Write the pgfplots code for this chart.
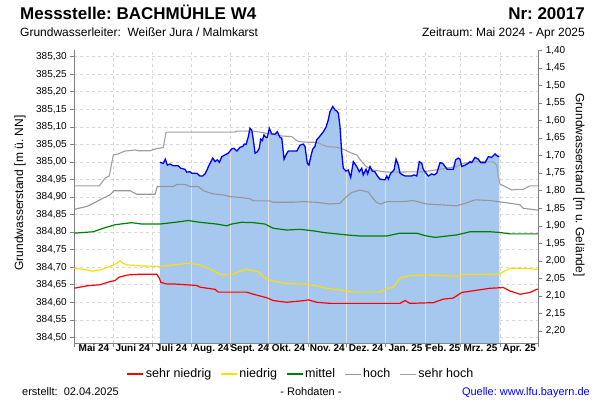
\documentclass[border=0pt]{standalone}
\usepackage{fontspec}
\setmainfont{Liberation Sans}
\usepackage{pgfplots}
\pgfplotsset{compat=1.18}
\frenchspacing

\definecolor{fillblue}{RGB}{166,200,238}
\definecolor{mblue}{RGB}{0,0,255}
\definecolor{cred}{RGB}{255,0,0}
\definecolor{cyellow}{RGB}{255,221,0}
\definecolor{cgreen}{RGB}{0,128,0}
\definecolor{chigh}{RGB}{150,150,150}
\definecolor{cvhigh}{RGB}{160,160,160}
\definecolor{gridc}{RGB}{215,215,215}
\definecolor{gridin}{RGB}{225,225,225}
\definecolor{axisc}{RGB}{128,128,128}

\begin{document}
\begin{tikzpicture}[x=1pt,y=1pt]
\useasboundingbox (0,0) rectangle (600,400);

% left axis: Grundwasserstand [m ü. NN], x = days since 01.05.2024
\begin{axis}[
  at={(74.3pt,57pt)}, anchor=south west, scale only axis,
  width=464pt, height=293pt,
  xmin=0, xmax=365, ymin=384.484, ymax=385.319,
  axis x line*=bottom, axis y line*=left,
  axis line style={-, axisc, line width=0.8pt},
  tick align=outside, major tick length=4pt,
  tick style={axisc, line width=0.6pt},
  xtick={0,31,61,92,123,153,184,214,245,276,304,335,365},
  xticklabels={},
  extra x ticks={15.5,46,76.5,107.5,138,168.5,199,229.5,260.5,290,319.5,350},
  extra x tick labels={Mai 24,Juni 24,Juli 24,Aug. 24,Sept. 24,Okt. 24,Nov. 24,Dez. 24,Jan. 25,Feb. 25,Mrz. 25,Apr. 25},
  extra x tick style={major tick length=0pt, grid=none},
  xticklabel style={font=\bfseries\fontsize{10}{12}\selectfont, inner sep=1pt},
  ytick={384.50,384.55,384.60,384.65,384.70,384.75,384.80,384.85,384.90,384.95,385.00,385.05,385.10,385.15,385.20,385.25,385.30},
  yticklabel style={font=\fontsize{10}{12}\selectfont,
    /pgf/number format/.cd, fixed, fixed zerofill, precision=2, use comma, 1000 sep={}},
  /pgf/number format/assume math mode=true,
  xmajorgrids, ymajorgrids,
  major grid style={gridc, dash pattern=on 3pt off 3pt, line width=0.6pt},
  legend style={at={(0.4886,-0.106)}, anchor=center, draw=none, fill=none,
    font=\fontsize{12.5}{14}\selectfont, legend columns=5,
    /tikz/every even column/.append style={column sep=7pt}},
  legend image code/.code={\draw[#1] (0pt,0pt) -- (16pt,0pt);},
]

% Messwerte (fill to bottom)
\addplot[fill=fillblue, draw=none, forget plot] coordinates {
(67.4,384.484)
(67.4,384.999) (70.0,384.996) (71.6,385.008) (73.2,384.991) (75.3,384.994) (77.9,384.989) (81.8,384.989) (83.7,384.982) (87.1,384.979) (88.4,384.971) (91.0,384.972) (92.4,384.968) (96.3,384.968) (98.9,384.960) (101.0,384.960) (102.8,384.966) (104.6,384.979) (106.0,384.991) (107.3,384.999) (108.9,385.011) (110.7,385.001) (112.5,385.006) (114.1,384.999) (116.0,385.015) (118.5,385.020) (121.1,385.025) (123.8,385.037) (125.6,385.039) (127.8,385.031) (130.4,385.042) (132.5,385.044) (133.7,385.051) (135.1,385.050) (136.9,385.072) (138.2,385.096) (139.6,385.091) (140.8,385.063) (142.2,385.025) (144.0,385.029) (145.5,385.039) (146.6,385.065) (147.9,385.061) (149.2,385.077) (150.8,385.070) (151.8,385.070) (153.4,385.096) (155.3,385.080) (157.9,385.079) (159.7,385.086) (161.8,385.070) (163.2,385.068) (165.0,385.008) (166.5,385.020) (168.3,385.031) (172.3,385.031) (175.0,385.031) (177.6,385.048) (180.1,385.051) (181.5,385.044) (183.3,384.996) (184.6,384.991) (186.0,385.015) (187.5,385.036) (189.3,385.044) (190.7,385.063) (193.3,385.074) (195.9,385.086) (198.0,385.099) (199.8,385.120) (201.1,385.143) (203.3,385.158) (205.1,385.148) (206.4,385.145) (207.7,385.139) (209.0,385.101) (210.4,385.025) (211.6,384.982) (213.7,384.974) (215.5,384.977) (217.4,384.956) (219.5,385.001) (222.2,384.987) (224.2,384.972) (226.1,384.982) (227.3,384.963) (229.5,384.979) (230.8,384.966) (232.6,384.987) (234.4,384.974) (236.5,384.972) (238.4,384.960) (240.5,384.951) (244.4,384.949) (245.8,384.960) (247.0,384.951) (248.9,384.968) (251.5,384.977) (253.1,385.008) (254.9,384.991) (256.2,384.968) (258.3,384.963) (260.2,384.960) (265.4,384.960) (267.2,384.963) (269.4,384.960) (271.4,385.001) (273.3,384.996) (274.5,384.979) (276.7,384.968) (278.5,384.960) (281.2,384.966) (283.0,384.963) (285.1,384.968) (287.7,384.998) (289.8,384.996) (291.6,384.987) (293.4,384.979) (298.1,384.979) (300.0,385.006) (302.1,385.011) (303.4,385.008) (304.8,384.987) (307.4,384.991) (309.9,384.996) (311.3,385.001) (312.6,384.998) (315.2,385.013) (317.8,385.008) (319.7,384.998) (323.1,384.998) (325.7,385.015) (328.3,385.013) (331.0,385.023) (332.3,385.018) (334.3,385.015)
(334.3,384.484)
};

% month lines inside the filled area
\draw[gridin, line width=0.9pt] (axis cs:92,384.484) -- (axis cs:92,384.969);
\draw[gridin, line width=0.9pt] (axis cs:123,384.484) -- (axis cs:123,385.033);
\draw[gridin, line width=0.9pt] (axis cs:153,384.484) -- (axis cs:153,385.088);
\draw[gridin, line width=0.9pt] (axis cs:184,384.484) -- (axis cs:184,384.993);
\draw[gridin, line width=0.9pt] (axis cs:214,384.484) -- (axis cs:214,384.975);
\draw[gridin, line width=0.9pt] (axis cs:245,384.484) -- (axis cs:245,384.953);
\draw[gridin, line width=0.9pt] (axis cs:276,384.484) -- (axis cs:276,384.972);
\draw[gridin, line width=0.9pt] (axis cs:304,384.484) -- (axis cs:304,384.996);

% sehr niedrig
\addplot[cred, line width=1.2pt] coordinates {
(0,384.640) (9.8,384.647) (20.2,384.650) (28.1,384.659) (32.0,384.662) (35.4,384.672) (42.5,384.678) (51.7,384.680) (64.8,384.680) (66.9,384.669) (68.0,384.657) (72.7,384.652) (79.3,384.652) (96.3,384.648) (98.9,384.643) (110.7,384.637) (113.3,384.629) (135.6,384.629) (140.8,384.623) (146.1,384.618) (151.4,384.613) (156.5,384.605) (167.1,384.600) (172.3,384.602) (181.5,384.605) (184.1,384.607) (190.7,384.600) (201.1,384.597) (227.3,384.597) (256.2,384.597) (260.2,384.605) (264.0,384.597) (282.4,384.599) (290.3,384.609) (298.1,384.612) (304.8,384.628) (327.1,384.640) (337.5,384.642) (342.8,384.632) (350.6,384.623) (358.5,384.628) (363.8,384.637) (365,384.637)
};
\addlegendentry{sehr niedrig}

% niedrig
\addplot[cyellow, line width=1.2pt] coordinates {
(0,384.697) (7.1,384.694) (13.7,384.689) (20.2,384.692) (28.1,384.702) (33.4,384.711) (36.0,384.718) (38.5,384.711) (41.2,384.707) (51.7,384.704) (67.4,384.702) (79.3,384.707) (89.7,384.711) (98.9,384.707) (105.4,384.697) (110.7,384.687) (114.6,384.680) (119.9,384.678) (125.1,384.681) (131.7,384.690) (135.6,384.694) (144.7,384.687) (150.0,384.669) (157.9,384.659) (167.1,384.654) (177.6,384.652) (181.5,384.652) (190.7,384.647) (198.6,384.640) (214.3,384.632) (220.8,384.629) (240.5,384.629) (245.8,384.640) (250.9,384.642) (256.2,384.669) (264.0,384.676) (282.4,384.678) (294.2,384.675) (303.4,384.675) (306.0,384.679) (333.5,384.680) (342.8,384.697) (353.2,384.697) (363.8,384.694) (365,384.694)
};
\addlegendentry{niedrig}

% mittel
\addplot[cgreen, line width=1.2pt] coordinates {
(0,384.797) (7.1,384.799) (14.9,384.801) (22.8,384.811) (32.0,384.821) (45.2,384.827) (53.0,384.823) (67.4,384.823) (79.3,384.828) (89.7,384.833) (98.9,384.828) (112.0,384.823) (119.9,384.818) (123.8,384.823) (131.7,384.828) (140.8,384.827) (150.0,384.823) (156.5,384.811) (167.1,384.806) (177.6,384.808) (189.3,384.803) (195.9,384.799) (214.3,384.792) (224.7,384.789) (245.8,384.789) (256.2,384.797) (269.4,384.797) (275.9,384.790) (283.8,384.785) (300.8,384.792) (311.3,384.801) (327.1,384.801) (334.9,384.799) (342.8,384.795) (365,384.795)
};
\addlegendentry{mittel}

% hoch
\addplot[chigh, line width=1.1pt] coordinates {
(0,384.865) (9.8,384.873) (14.9,384.882) (22.8,384.897) (28.1,384.906) (31.2,384.918) (43.8,384.918) (49.1,384.908) (63.5,384.908) (65.3,384.930) (77.9,384.930) (81.0,384.936) (87.1,384.936) (91.0,384.930) (97.5,384.930) (101.5,384.918) (109.3,384.909) (117.2,384.906) (122.5,384.901) (130.4,384.899) (138.2,384.895) (140.8,384.889) (153.9,384.889) (156.5,384.885) (172.3,384.885) (180.1,384.887) (190.7,384.885) (201.1,384.880) (209.0,384.882) (212.9,384.897) (218.2,384.913) (224.7,384.920) (231.3,384.914) (234.7,384.897) (237.9,384.884) (241.0,384.880) (245.8,384.887) (258.8,384.887) (266.7,384.890) (277.2,384.880) (287.7,384.878) (300.8,384.875) (307.4,384.882) (315.2,384.892) (327.1,384.890) (333.5,384.887) (350.5,384.878) (353.2,384.868) (363.8,384.863) (365,384.863)
};
\addlegendentry{hoch}

% sehr hoch
\addplot[cvhigh, line width=1.1pt] coordinates {
(0,384.932) (19.7,384.932) (24.2,384.954) (27.5,384.960) (30.7,385.020) (33.8,385.022) (39.9,385.031) (47.8,385.034) (50.3,385.032) (59.6,385.032) (64.8,385.038) (70.0,385.041) (72.1,385.083) (73.2,385.085) (126.4,385.085) (127.7,385.088) (140.8,385.088) (146.1,385.085) (153.4,385.080) (163.2,385.074) (171.0,385.072) (176.2,385.058) (184.1,385.056) (190.7,385.056) (195.9,385.048) (198.6,385.044) (206.4,385.042) (211.6,385.036) (216.9,385.027) (222.2,385.020) (226.1,385.001) (229.5,384.987) (235.2,384.977) (243.1,384.972) (248.4,384.971) (274.5,384.972) (287.7,384.979) (300.8,384.987) (306.0,384.996) (316.6,385.001) (329.6,385.000) (332.3,384.991) (333.5,384.958) (334.9,384.937) (338.8,384.930) (344.1,384.920) (349.3,384.922) (353.2,384.922) (358.5,384.932) (365,384.932)
};
\addlegendentry{sehr hoch}

% Messwerte line
\addplot[mblue, line width=1.3pt, forget plot] coordinates {
(67.4,384.999) (70.0,384.996) (71.6,385.008) (73.2,384.991) (75.3,384.994) (77.9,384.989) (81.8,384.989) (83.7,384.982) (87.1,384.979) (88.4,384.971) (91.0,384.972) (92.4,384.968) (96.3,384.968) (98.9,384.960) (101.0,384.960) (102.8,384.966) (104.6,384.979) (106.0,384.991) (107.3,384.999) (108.9,385.011) (110.7,385.001) (112.5,385.006) (114.1,384.999) (116.0,385.015) (118.5,385.020) (121.1,385.025) (123.8,385.037) (125.6,385.039) (127.8,385.031) (130.4,385.042) (132.5,385.044) (133.7,385.051) (135.1,385.050) (136.9,385.072) (138.2,385.096) (139.6,385.091) (140.8,385.063) (142.2,385.025) (144.0,385.029) (145.5,385.039) (146.6,385.065) (147.9,385.061) (149.2,385.077) (150.8,385.070) (151.8,385.070) (153.4,385.096) (155.3,385.080) (157.9,385.079) (159.7,385.086) (161.8,385.070) (163.2,385.068) (165.0,385.008) (166.5,385.020) (168.3,385.031) (172.3,385.031) (175.0,385.031) (177.6,385.048) (180.1,385.051) (181.5,385.044) (183.3,384.996) (184.6,384.991) (186.0,385.015) (187.5,385.036) (189.3,385.044) (190.7,385.063) (193.3,385.074) (195.9,385.086) (198.0,385.099) (199.8,385.120) (201.1,385.143) (203.3,385.158) (205.1,385.148) (206.4,385.145) (207.7,385.139) (209.0,385.101) (210.4,385.025) (211.6,384.982) (213.7,384.974) (215.5,384.977) (217.4,384.956) (219.5,385.001) (222.2,384.987) (224.2,384.972) (226.1,384.982) (227.3,384.963) (229.5,384.979) (230.8,384.966) (232.6,384.987) (234.4,384.974) (236.5,384.972) (238.4,384.960) (240.5,384.951) (244.4,384.949) (245.8,384.960) (247.0,384.951) (248.9,384.968) (251.5,384.977) (253.1,385.008) (254.9,384.991) (256.2,384.968) (258.3,384.963) (260.2,384.960) (265.4,384.960) (267.2,384.963) (269.4,384.960) (271.4,385.001) (273.3,384.996) (274.5,384.979) (276.7,384.968) (278.5,384.960) (281.2,384.966) (283.0,384.963) (285.1,384.968) (287.7,384.998) (289.8,384.996) (291.6,384.987) (293.4,384.979) (298.1,384.979) (300.0,385.006) (302.1,385.011) (303.4,385.008) (304.8,384.987) (307.4,384.991) (309.9,384.996) (311.3,385.001) (312.6,384.998) (315.2,385.013) (317.8,385.008) (319.7,384.998) (323.1,384.998) (325.7,385.015) (328.3,385.013) (331.0,385.023) (332.3,385.018) (334.3,385.015)
};
\end{axis}

% right axis: Grundwasserstand [m u. Gelände]
\begin{axis}[
  at={(74.3pt,57pt)}, anchor=south west, scale only axis,
  width=464pt, height=293pt,
  xmin=0, xmax=365, ymin=1.399, ymax=2.234, y dir=reverse,
  hide x axis, axis y line*=right,
  axis line style={-, axisc, line width=0.8pt},
  tick align=outside, major tick length=4pt,
  tick style={axisc, line width=0.6pt},
  ytick={1.40,1.45,1.50,1.55,1.60,1.65,1.70,1.75,1.80,1.85,1.90,1.95,2.00,2.05,2.10,2.15,2.20},
  yticklabel style={font=\fontsize{10}{12}\selectfont,
    /pgf/number format/.cd, fixed, fixed zerofill, precision=2, use comma},
  /pgf/number format/assume math mode=true,
]
\end{axis}

% titles and labels
\node[anchor=base west, font=\bfseries\fontsize{17}{20}\selectfont, inner sep=0] at (20,380) {Messstelle: BACHMÜHLE W4};
\node[anchor=base east, font=\bfseries\fontsize{17}{20}\selectfont, inner sep=0] at (585,380) {Nr: 20017};
\node[anchor=base west, font=\fontsize{12}{14}\selectfont, inner sep=0] at (20,363) {Grundwasserleiter:\ \ Weißer Jura / Malmkarst};
\node[anchor=base east, font=\fontsize{12}{14}\selectfont, inner sep=0] at (585,363) {Zeitraum: Mai 2024 - Apr 2025};
\node[rotate=90, font=\fontsize{12}{14}\selectfont, inner sep=0] at (20,207) {Grundwasserstand [m ü. NN]};
\node[rotate=-90, font=\fontsize{12}{14}\selectfont, inner sep=0] at (579,215) {Grundwasserstand [m u. Gelände]};
\node[anchor=base west, font=\fontsize{11}{13}\selectfont, inner sep=0] at (22,5) {erstellt:\ \ 02.04.2025};
\node[anchor=base, font=\fontsize{11}{13}\selectfont, inner sep=0] at (311,5) {- Rohdaten -};
\node[anchor=base east, font=\fontsize{11}{13}\selectfont, inner sep=0, text=mblue] at (590,5) {Quelle: www.lfu.bayern.de};
\end{tikzpicture}
\end{document}
